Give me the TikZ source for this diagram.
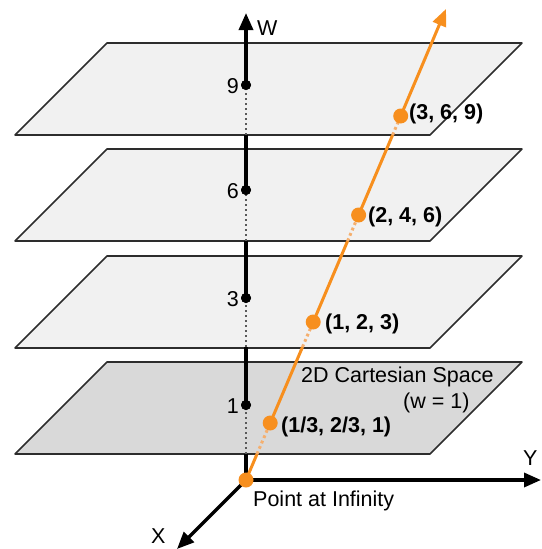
\documentclass[tikz,border=0pt]{standalone}
\usepackage{fontspec}
\setmainfont{Liberation Sans}
\usetikzlibrary{arrows.meta}
\definecolor{orng}{RGB}{247,143,30}
\definecolor{orngdot}{RGB}{245,175,110}
\definecolor{planefill}{RGB}{241,241,241}
\definecolor{planedark}{RGB}{217,217,217}
\definecolor{edgec}{RGB}{45,45,45}
\begin{document}
\begin{tikzpicture}[x=1pt,y=-1pt,
  plane/.style={draw=edgec, line width=1.6pt, line join=round},
  axis/.style={line width=3.4pt, black},
  axhidden/.style={line width=2.8pt, black!65, dash pattern=on 2.4pt off 2.6pt},
  oline/.style={line width=3pt, orng},
  ohidden/.style={line width=3pt, orngdot, dash pattern=on 2.8pt off 3pt},
  bdot/.style={circle, fill=black, inner sep=0pt, minimum size=10pt},
  odot/.style={circle, fill=orng, inner sep=0pt, minimum size=15pt},
  lbl/.style={inner sep=0pt, font=\fontsize{21.5}{25}\selectfont},
  blbl/.style={inner sep=0pt, font=\fontsize{21.5}{25}\selectfont\bfseries},
  tip/.style={-{Triangle[length=17pt,width=14pt]}}
]
\useasboundingbox (0,0) rectangle (541,549);
% planes
\foreach \t/\f in {43/planefill,149/planefill,256/planefill,362/planedark}{
  \filldraw[plane, fill=\f] (107,\t) -- (522,\t) -- (430,\t+92) -- (15,\t+92) -- cycle;
}
% coordinates
\coordinate (O) at (246,480);
\coordinate (Wtip) at (246,13);
\coordinate (Ytip) at (541,480);
\coordinate (Xtip) at (177,549);
\coordinate (Otip) at (446,9);
\coordinate (wb4) at (246,454);
\coordinate (wb3) at (246,347);
\coordinate (wb2) at (246,241);
\coordinate (wb1) at (246,135);
\coordinate (ob4) at (257,454);
\coordinate (ob3) at (302.5,347);
\coordinate (ob2) at (347.6,241);
\coordinate (ob1) at (392.6,135);
% dots (positions)
\node[bdot] (w1) at (246,405) {};
\node[bdot] (w3) at (246,298) {};
\node[bdot] (w6) at (246,190) {};
\node[bdot] (w9) at (246,85) {};
% axes
\draw[axis, tip] (O) -- (Ytip);
\draw[axis, tip] (O) -- (Xtip);
\draw[axis] (O) -- (wb4);
\draw[axhidden] (wb4) -- (w1.center);
\draw[axis] (w1.center) -- (wb3);
\draw[axhidden] (wb3) -- (w3.center);
\draw[axis] (w3.center) -- (wb2);
\draw[axhidden] (wb2) -- (w6.center);
\draw[axis] (w6.center) -- (wb1);
\draw[axhidden] (wb1) -- (w9.center);
\draw[axis, tip] (w9.center) -- (Wtip);
\node[bdot] at (w1) {};
\node[bdot] at (w3) {};
\node[bdot] at (w6) {};
\node[bdot] at (w9) {};
% orange line
\coordinate (p1) at (270.2,423);
\coordinate (p3) at (313.2,322);
\coordinate (p6) at (358.6,215);
\coordinate (p9) at (400.7,116);
\draw[oline] (O) -- (ob4);
\draw[ohidden] (ob4) -- (p1);
\draw[oline] (p1) -- (ob3);
\draw[ohidden] (ob3) -- (p3);
\draw[oline] (p3) -- (ob2);
\draw[ohidden] (ob2) -- (p6);
\draw[oline] (p6) -- (ob1);
\draw[ohidden] (ob1) -- (p9);
\draw[oline, -{Triangle[length=17pt,width=14pt]}] (p9) -- (Otip);
\node[odot] (q1) at (p1) {};
\node[odot] (q3) at (p3) {};
\node[odot] (q6) at (p6) {};
\node[odot] (q9) at (p9) {};
\node[odot] (qO) at (O) {};
% labels
\node[lbl, anchor=base east] (l9) at (239,93) {9};
\node[lbl, anchor=base east] (l6) at (239,198) {6};
\node[lbl, anchor=base east] (l3) at (239,306) {3};
\node[lbl, anchor=base east] (l1) at (239,413) {1};
\node[lbl, anchor=base west] (lW) at (257,35) {W};
\node[lbl, anchor=base west] (lY) at (523,465) {Y};
\node[lbl, anchor=base west] (lX) at (151,543) {X};
\node[lbl, anchor=base west] (lpi) at (253,506) {Point at Infinity};
\node[lbl, anchor=base west] (lcs) at (301,382) {2D Cartesian Space};
\node[lbl, anchor=base west] (lw1) at (403,408) {(w = 1)};
\node[blbl, anchor=base west] (t1) at (281,432) {(1/3, 2/3, 1)};
\node[blbl, anchor=base west] (t3) at (325,329) {(1, 2, 3)};
\node[blbl, anchor=base west] (t6) at (368,222) {(2, 4, 6)};
\node[blbl, anchor=base west] (t9) at (409,119) {(3, 6, 9)};
\end{tikzpicture}
\end{document}
